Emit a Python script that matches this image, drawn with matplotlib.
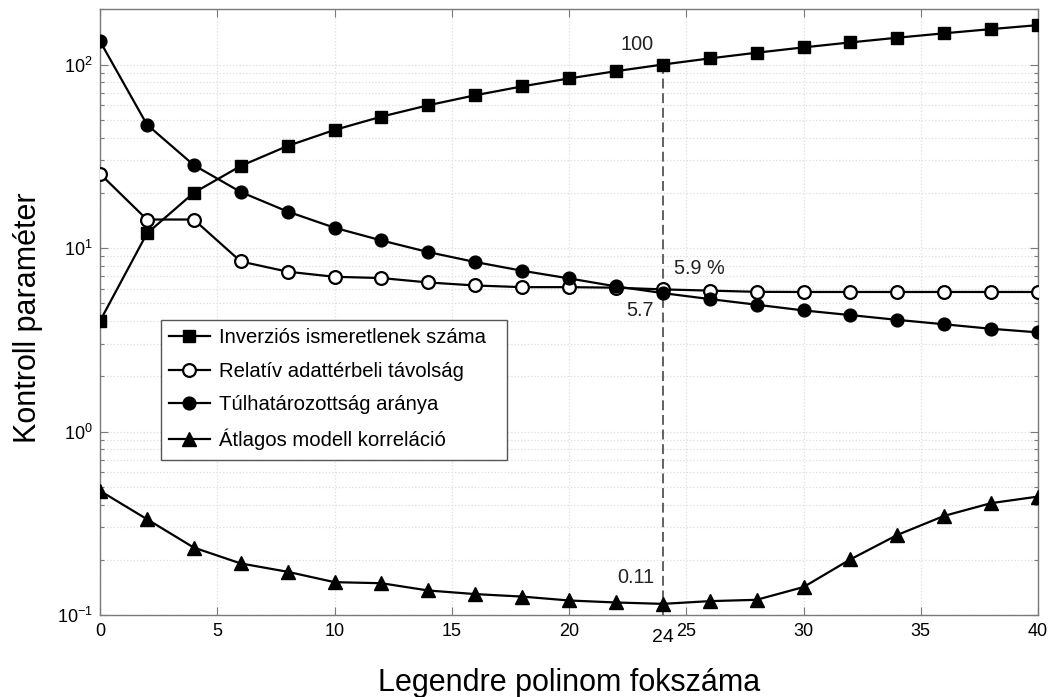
import matplotlib
matplotlib.use('Agg')
import matplotlib.pyplot as plt
from matplotlib.patches import Rectangle
from matplotlib.ticker import LogLocator, NullFormatter, FixedLocator, LogFormatterMathtext

plt.rcParams['font.family'] = ['Liberation Sans', 'DejaVu Sans']
plt.rcParams['mathtext.fontset'] = 'custom'
plt.rcParams['mathtext.rm'] = 'Liberation Sans'
plt.rcParams['mathtext.it'] = 'Liberation Sans:italic'
plt.rcParams['mathtext.bf'] = 'Liberation Sans:bold'
plt.rcParams['axes.unicode_minus'] = False

# ---- data ----
degree = [0, 2, 4, 6, 8, 10, 12, 14, 16, 18, 20, 22, 24, 26, 28, 30, 32, 34, 36, 38, 40]
unknowns = [4, 12, 20, 28, 36, 44, 52, 60, 68, 76, 84, 92, 100, 108, 116, 124, 132, 140, 148, 156, 164]
rel_dist = [25.4, 14.3, 14.3, 8.45, 7.43, 6.97, 6.86, 6.49, 6.25, 6.12, 6.12, 6.08, 5.95, 5.86,
            5.77, 5.76, 5.76, 5.76, 5.76, 5.76, 5.76]
overdet = [134, 47.1, 28.3, 20.2, 15.8, 12.9, 11.0, 9.5, 8.39, 7.52, 6.83, 6.18, 5.68, 5.27,
           4.91, 4.57, 4.31, 4.06, 3.84, 3.63, 3.47]
corr = [0.475, 0.333, 0.233, 0.191, 0.172, 0.151, 0.149, 0.136, 0.130, 0.126, 0.120, 0.117,
        0.115, 0.119, 0.121, 0.142, 0.201, 0.273, 0.347, 0.407, 0.442]

labels = ['Inverziós ismeretlenek száma', 'Relatív adattérbeli távolság',
          'Túlhatározottság aránya', 'Átlagos modell korreláció']
xlabel = 'Legendre polinom fokszáma'
ylabel = 'Kontroll paraméter'
x_ticks = [0, 5, 10, 15, 20, 25, 30, 35, 40]
sel_degree = 24
sel_idx = degree.index(sel_degree)

fig = plt.figure(figsize=(10.51, 6.97), dpi=100)
W, H = 1051, 697
AX_L, AX_R, AX_T, AX_B = 100, 1038, 9.3, 615
ax = fig.add_axes([AX_L / W, (H - AX_B) / H, (AX_R - AX_L) / W, (AX_B - AX_T) / H])

ax.set_yscale('log')
ax.set_xlim(0, 40)
ax.set_ylim(0.1, 200)

lw = 1.6
ax.plot(degree, unknowns, '-', color='black', lw=lw, marker='s', ms=8.2,
        mfc='black', mec='black', label=labels[0], zorder=3)
ax.plot(degree, rel_dist, '-', color='black', lw=lw, marker='o', ms=9.2,
        mfc='white', mec='black', mew=1.6, label=labels[1], zorder=3)
ax.plot(degree, overdet, '-', color='black', lw=lw, marker='o', ms=9.2,
        mfc='black', mec='black', label=labels[2], zorder=3)
ax.plot(degree, corr, '-', color='black', lw=lw, marker='^', ms=9.5,
        mfc='black', mec='black', label=labels[3], zorder=3)

# dashed selection line
ax.vlines(sel_degree, 0.1, unknowns[sel_idx], colors='#555555', linestyles=(0, (5.5, 2.6)),
          lw=1.3, zorder=2)

ann_kw = dict(textcoords='offset pixels', ha='center', va='center', fontsize=14.3, color='#222222')
ax.annotate('100', xy=(sel_degree, unknowns[sel_idx]), xytext=(-26, 20), **ann_kw)
ax.annotate('5.9 %', xy=(sel_degree, rel_dist[sel_idx]), xytext=(37, 21), **ann_kw)
ax.annotate('5.7', xy=(sel_degree, overdet[sel_idx]), xytext=(-23, -17), **ann_kw)
ax.annotate('0.11', xy=(sel_degree, corr[sel_idx]), xytext=(-27, 26), **ann_kw)

# ticks
ax.xaxis.set_major_locator(FixedLocator(x_ticks))
ax.yaxis.set_major_locator(LogLocator(base=10, numticks=10))
ax.yaxis.set_minor_locator(LogLocator(base=10, subs=range(2, 10), numticks=20))
ax.yaxis.set_minor_formatter(NullFormatter())
ax.yaxis.set_major_formatter(LogFormatterMathtext())
spine_col = '#7a7a7a'
ax.tick_params(axis='both', which='major', direction='in', length=6, width=0.8,
               color=spine_col, top=True, right=True, labelsize=13, labelcolor='black')
ax.tick_params(axis='x', which='major', pad=6)
ax.tick_params(axis='y', which='major', pad=5)
ax.tick_params(axis='y', which='minor', direction='in', length=3, width=0.8,
               color=spine_col, right=True, left=True)
for s in ax.spines.values():
    s.set_color(spine_col)
    s.set_linewidth(1.0)

ax.grid(True, which='major', color='#dedede', linestyle=':', linewidth=0.9)
ax.grid(True, which='minor', axis='y', color='#dedede', linestyle=':', linewidth=0.9)
ax.set_axisbelow(True)

# extra tick label for the selected degree
ax.text(sel_degree, -0.037, str(sel_degree), transform=ax.get_xaxis_transform(),
        ha='center', va='center', fontsize=14)

# legend (frame drawn as a separate box to mimic the wide right margin)
LG_L, LG_R, LG_T, LG_B = 161, 507, 320, 460
frame = Rectangle((LG_L / W, 1 - LG_B / H), (LG_R - LG_L) / W, (LG_B - LG_T) / H,
                  transform=fig.transFigure, facecolor='white', edgecolor='#555555',
                  lw=1.0, zorder=4.5)
ax.add_patch(frame)
leg = ax.legend(loc='upper left',
                bbox_to_anchor=((LG_L - AX_L) / (AX_R - AX_L), (AX_B - LG_T) / (AX_B - AX_T)),
                borderaxespad=0, frameon=False, fontsize=14.6, handlelength=2.0,
                handletextpad=0.45, borderpad=0.4, labelspacing=0.72)
leg.set_zorder(5)

fig.text(569 / W, 1 - 683 / H, xlabel, ha='center', va='center', fontsize=22)
fig.text(28.5 / W, 1 - 318 / H, ylabel, ha='center', va='center', fontsize=22, rotation=90)

fig.savefig('out.png', dpi=100)
